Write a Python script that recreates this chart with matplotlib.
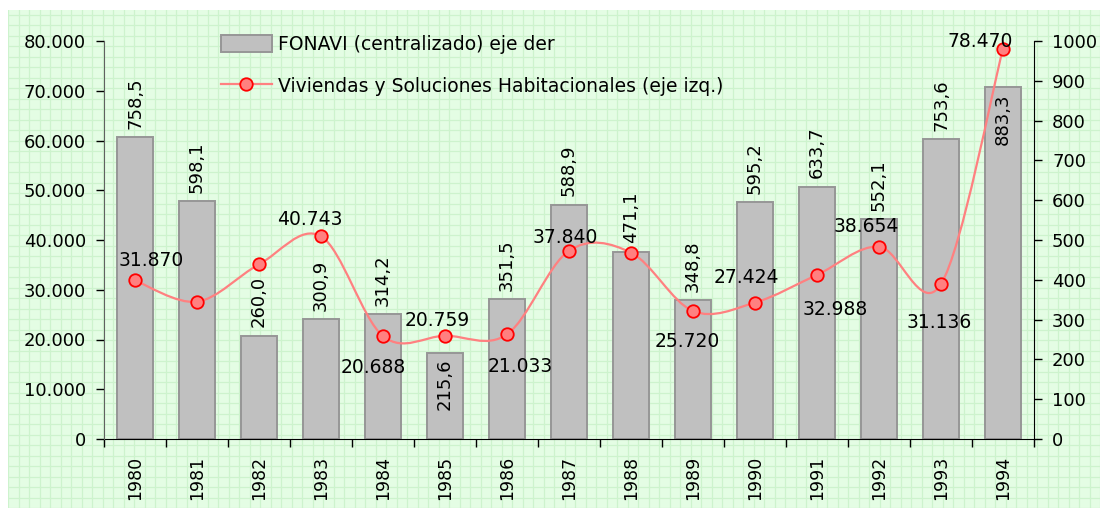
import numpy as np
import matplotlib
matplotlib.use('Agg')
import matplotlib.pyplot as plt
from matplotlib.path import Path
from matplotlib.patches import PathPatch
from matplotlib.lines import Line2D
from matplotlib.patches import Patch

# ------------------------------------------- data -------------------------------------------
years = ['1980', '1981', '1982', '1983', '1984', '1985', '1986', '1987',
         '1988', '1989', '1990', '1991', '1992', '1993', '1994']
fonavi = [758.5, 598.1, 260.0, 300.9, 314.2, 215.6, 351.5, 588.9,
          471.1, 348.8, 595.2, 633.7, 552.1, 753.6, 883.3]
viviendas = [31870, 27600, 35100, 40743, 20688, 20759, 21033, 37840,
             37450, 25720, 27424, 32988, 38654, 31136, 78470]
# which line points carry a label in the original
viv_labelled = [True, False, False, True, True, True, True, True,
                False, True, True, True, True, True, True]

# label offsets (pixels) for the line labels, hand placed like the original
viv_offsets = [(16, 20), (0, 0), (0, 0), (-11, 17), (-10, -31), (-8, 15), (13, -32), (-4, 13),
               (0, 0), (-6, -30), (-9, 25), (18, -35), (-13, 20), (-2, -38), (-23, 7)]
# bar labels inside the bar instead of above
bar_inside = [False] * 5 + [True] + [False] * 8 + [True]

W, H = 1100, 508
fig = plt.figure(figsize=(W / 100, H / 100), dpi=100)
fig.patch.set_facecolor('white')
plt.rcParams['font.family'] = ['DejaVu Sans']
FS = 13

# ------------------------------------ green squared background ------------------------------------
bg = fig.add_axes([8 / W, 0, 1 - 8 / W, 498 / H], zorder=0)
bg.set_facecolor('#e4fde4')
bg.set_xlim(0, 1092)
bg.set_ylim(0, 498)
bg.set_xticks(np.arange(0, 1093, 10.5))
bg.set_yticks(np.arange(0, 499, 10.5))
bg.grid(True, color='#cdf3cd', linewidth=0.9)
bg.tick_params(length=0, labelbottom=False, labelleft=False)
for s in bg.spines.values():
    s.set_visible(False)

# ------------------------------------------- axes -------------------------------------------
ax = fig.add_axes([104 / W, (H - 439) / H, 930 / W, 398 / H], zorder=1)
ax.patch.set_visible(False)
x = np.arange(len(years))
ax2 = ax.twinx()
ax2.set_zorder(2)
ax2.patch.set_visible(False)

# bars -> right axis
ax.bar(x, fonavi, width=0.59, color='#c0c0c0', edgecolor='#969696', linewidth=1.4, zorder=2)
ax.set_ylim(0, 1000)
ax.set_yticks(np.arange(0, 1001, 100))
ax.yaxis.tick_right()
ax.set_xlim(-0.5, len(years) - 0.5)
ax.set_xticks(x)
ax.set_xticklabels(years, rotation=90, fontsize=12.5)
ax.set_xticks(np.arange(-0.5, len(years), 1), minor=True)
ax.tick_params(axis='x', which='major', length=0, pad=12)
ax.tick_params(axis='x', which='minor', length=6, width=1, direction='out')
ax.tick_params(axis='y', labelsize=FS, length=6, width=1, direction='out', pad=7)
for side in ['top', 'left']:
    ax.spines[side].set_visible(False)
ax.spines['right'].set_color('black')
ax.spines['bottom'].set_color('black')

for xi, v, inside in zip(x, fonavi, bar_inside):
    txt = f'{v:.1f}'.replace('.', ',')
    if inside:
        ax.annotate(txt, (xi, v), xytext=(0, -4), textcoords='offset points',
                    rotation=90, ha='center', va='top', fontsize=FS, zorder=5)
    else:
        ax.annotate(txt, (xi, v), xytext=(0, 6), textcoords='offset points',
                    rotation=90, ha='center', va='bottom', fontsize=FS, zorder=5)

# line -> left axis
ax2.yaxis.tick_left()
ax2.set_ylim(0, 80000)
ax2.set_yticks(np.arange(0, 80001, 10000))
ax2.set_yticklabels([f'{int(t):,}'.replace(',', '.') for t in np.arange(0, 80001, 10000)])
ax2.tick_params(axis='y', labelsize=FS, length=6, width=1, direction='out', pad=7)
for side in ['top', 'right', 'bottom']:
    ax2.spines[side].set_visible(False)
ax2.spines['left'].set_color('#606060')

# smooth line like excel (catmull-rom -> bezier)
pts = np.column_stack([x, viviendas]).astype(float)
ext = np.vstack([pts[0], pts, pts[-1]])
verts = [tuple(pts[0])]
codes = [Path.MOVETO]
for i in range(len(pts) - 1):
    p0, p1, p2, p3 = ext[i], ext[i + 1], ext[i + 2], ext[i + 3]
    c1 = p1 + (p2 - p0) / 6
    c2 = p2 - (p3 - p1) / 6
    verts += [tuple(c1), tuple(c2), tuple(p2)]
    codes += [Path.CURVE4] * 3
ax2.add_patch(PathPatch(Path(verts, codes), fill=False, edgecolor='#ff8080', linewidth=1.6, zorder=3))
ax2.plot(x, viviendas, linestyle='none', marker='o', markersize=9,
         markerfacecolor='#ff8080', markeredgecolor='#ff0000', markeredgewidth=1.3, zorder=4)

for xi, v, show, (dx, dy) in zip(x, viviendas, viv_labelled, viv_offsets):
    if not show:
        continue
    ax2.annotate(f'{v:,}'.replace(',', '.'), (xi, v), xytext=(dx * 0.72, dy * 0.72),
                 textcoords='offset points', ha='center', va='center', fontsize=FS + 0.5, zorder=6)

# ------------------------------------------- legend -------------------------------------------
handles = [Patch(facecolor='#c0c0c0', edgecolor='#969696', linewidth=1.4),
           Line2D([], [], color='#ff8080', linewidth=1.6, marker='o', markersize=9,
                  markerfacecolor='#ff8080', markeredgecolor='#ff0000', markeredgewidth=1.3)]
fig.legend(handles, ['FONAVI (centralizado) eje der',
                     'Viviendas y Soluciones Habitacionales (eje izq.)'],
           loc='upper left', bbox_to_anchor=(221 / W, 1 - 35 / H), frameon=False,
           fontsize=FS + 0.5, handlelength=2.7, handleheight=1.0, handletextpad=0.35,
           labelspacing=1.2, borderpad=0, borderaxespad=0)

fig.savefig('out.png', dpi=100, facecolor='white')
